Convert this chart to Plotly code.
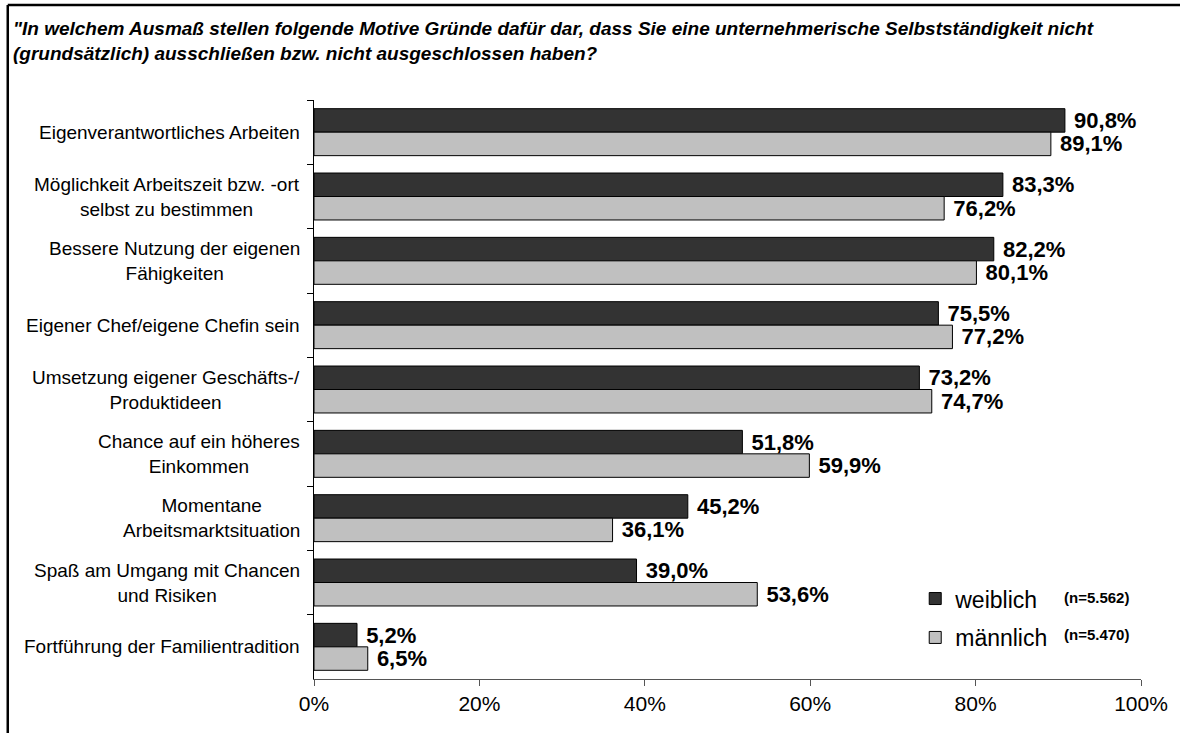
import plotly.graph_objects as go

categories = [
    "Eigenverantwortliches Arbeiten",
    "Möglichkeit Arbeitszeit bzw. -ort<br>selbst zu bestimmen",
    "Bessere Nutzung der eigenen<br>Fähigkeiten",
    "Eigener Chef/eigene Chefin sein",
    "Umsetzung eigener Geschäfts-/<br>Produktideen",
    "Chance auf ein höheres<br>Einkommen",
    "Momentane<br>Arbeitsmarktsituation",
    "Spaß am Umgang mit Chancen<br>und Risiken",
    "Fortführung der Familientradition",
]
weiblich = [90.8, 83.3, 82.2, 75.5, 73.2, 51.8, 45.2, 39.0, 5.2]
maennlich = [89.1, 76.2, 80.1, 77.2, 74.7, 59.9, 36.1, 53.6, 6.5]
series_names = ["weiblich", "männlich"]
sample_sizes = ["(n=5.562)", "(n=5.470)"]
x_ticks = [0, 20, 40, 60, 80, 100]
x_ticktext = ["0%", "20%", "40%", "60%", "80%", "100%"]
title_text = ('"In welchem Ausmaß stellen folgende Motive Gründe dafür dar, dass Sie eine unternehmerische Selbstständigkeit nicht'
              '<br>(grundsätzlich) ausschließen bzw. nicht ausgeschlossen haben?')

FONT = "Liberation Sans, Arial, sans-serif"
colors = ["#333333", "#c0c0c0"]

fig = go.Figure()
for name, vals, col in zip(series_names, [weiblich, maennlich], colors):
    fig.add_trace(go.Bar(
        y=categories, x=vals, orientation="h", name=name, legendgroup=name,
        marker=dict(color=col, line=dict(color="black", width=1)),
        texttemplate=" <b>%{x:.1f}%</b>", textposition="outside",
        textfont=dict(family=FONT, size=22, color="black"),
        constraintext="none", cliponaxis=False,
        hoverinfo="skip",
    ))

annotations = []
for cat in categories:
    annotations.append(dict(
        x=0, xref="paper", y=cat, yref="y", xanchor="right", yanchor="middle",
        xshift=-12, text=cat, showarrow=False, align="center",
        font=dict(family=FONT, size=19, color="black"),
    ))

# sample size annotations next to legend
n_y = [0.1416, 0.0777]
for txt, yy in zip(sample_sizes, n_y):
    annotations.append(dict(
        x=0.904, xref="paper", y=yy, yref="paper", xanchor="left", yanchor="middle",
        text="<b>" + txt + "</b>", showarrow=False,
        font=dict(family=FONT, size=15, color="black"),
    ))

# title
annotations.append(dict(
    x=-0.3667, xref="paper", y=1.1450, yref="paper", xanchor="left", yanchor="top",
    text="<b><i>" + title_text + "</i></b>", showarrow=False, align="left",
    font=dict(family=FONT, size=19, color="black"),
))

fig.update_layout(
    width=1180, height=733,
    margin=dict(l=314, r=37, t=100, b=54),
    paper_bgcolor="white", plot_bgcolor="white",
    barmode="group", bargap=0.27, bargroupgap=0,
    separators=",.",
    showlegend=True,
    legend=dict(
        x=0.727, y=0.176, xanchor="left", yanchor="top",
        font=dict(family=FONT, size=23, color="black"),
        bgcolor="rgba(0,0,0,0)", traceorder="grouped",
        itemwidth=30, tracegroupgap=6,
    ),
    annotations=annotations,
    font=dict(family=FONT, color="black"),
    xaxis=dict(
        range=[0, 100], tickvals=x_ticks, ticktext=x_ticktext,
        showgrid=False, zeroline=False, showline=True, linecolor="#555555", linewidth=1,
        ticks="outside", ticklen=6, tickcolor="#555555",
        tickfont=dict(family=FONT, size=21, color="black"),
    ),
    yaxis=dict(
        autorange="reversed", showticklabels=False, tickson="boundaries",
        showgrid=False, zeroline=False, showline=True, linecolor="black", linewidth=1,
        ticks="outside", ticklen=6, tickcolor="black",
    ),
    shapes=[
        dict(type="line", xref="paper", yref="paper", x0=-0.3703, x1=-0.3703, y0=1.1641, y1=-0.25,
             line=dict(color="black", width=2.5)),
        dict(type="line", xref="paper", yref="paper", x0=-0.3703, x1=1.06, y0=1.1641, y1=1.1641,
             line=dict(color="black", width=2.5)),
    ],
)

fig.write_html("out.html", config={"displayModeBar": False},
               post_script="document.body.style.margin='0';")
